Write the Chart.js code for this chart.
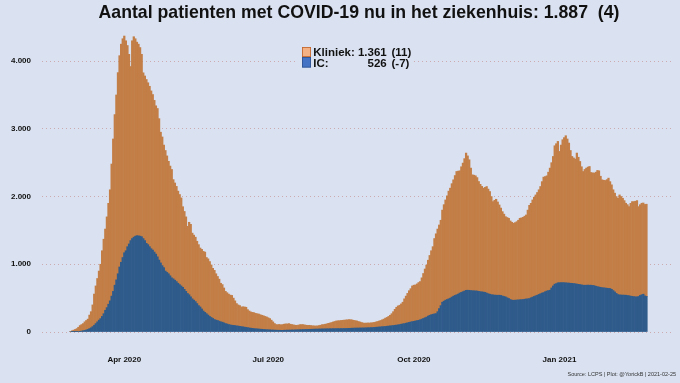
<!DOCTYPE html>
<html><head><meta charset="utf-8">
<script src="https://cdn.jsdelivr.net/npm/chart.js@4/dist/chart.umd.min.js"></script>
<style>html,body{margin:0;padding:0;background:#dae2f1;}canvas{display:block}</style>
</head><body>
<canvas id="c" width="680" height="383"></canvas>
<script>
// ---- data (LCPS, daily, starting 2020-02-27) ----
const startDate = '2020-02-27';
const tickDates = ['2020-04-01','2020-07-01','2020-10-01','2021-01-01'];
const tickLabels = ['Apr 2020','Jul 2020','Oct 2020','Jan 2021'];
const yTickValues = [0,1000,2000,3000,4000];
const seriesNames = ['Kliniek','IC'];
// total patients in hospital (Kliniek + IC)
const totaal = [
10,18,28,38,50,70,95,110,124,150,
170,190,250,300,400,560,680,790,900,1000,
1200,1370,1520,1700,1900,2100,2480,2850,3210,3500,
3830,4080,4250,4330,4370,4300,4230,4100,3920,4300,
4360,4330,4280,4250,4200,4100,3827,3780,3728,3680,
3628,3560,3506,3420,3340,3300,3150,2950,2880,2760,
2680,2600,2520,2450,2400,2250,2200,2150,2080,2030,
1980,1850,1780,1700,1560,1620,1590,1460,1430,1400,
1340,1290,1240,1220,1190,1180,1100,1080,1040,990,
940,910,860,820,780,720,700,650,600,580,
560,545,540,500,460,420,400,390,370,372,
370,365,330,310,296,290,285,275,270,265,
255,247,240,230,222,210,198,175,150,125,
110,108,112,105,110,115,120,118,124,115,
110,105,100,99,102,108,110,109,104,100,
98,99,95,92,90,89,90,95,100,108,
110,115,120,128,133,140,148,155,163,165,
168,170,173,175,178,180,183,182,178,172,
168,163,155,148,140,133,130,132,133,133,
135,138,142,148,155,162,170,180,190,205,
215,230,247,270,300,335,365,385,395,415,
440,490,530,570,610,640,680,691,695,710,
730,745,800,864,930,988,1060,1130,1200,1260,
1380,1450,1520,1580,1650,1800,1880,1950,2010,2080,
2124,2190,2247,2310,2370,2375,2380,2440,2494,2560,
2642,2600,2543,2420,2321,2315,2306,2280,2222,2180,
2150,2124,2135,2148,2110,2074,2000,1925,1945,1960,
1920,1876,1830,1777,1740,1703,1690,1679,1640,1620,
1605,1615,1629,1650,1679,1685,1694,1710,1728,1800,
1870,1900,1950,1990,2024,2060,2100,2148,2220,2287,
2295,2306,2360,2420,2500,2592,2750,2780,2814,2666,
2760,2839,2870,2898,2850,2790,2680,2592,2570,2553,
2642,2580,2518,2440,2370,2400,2420,2435,2444,2355,
2350,2346,2360,2385,2380,2300,2247,2240,2237,2250,
2272,2220,2173,2100,2050,2000,1975,2024,2000,1975,
1940,1901,1880,1851,1900,1925,1925,1930,1940,1851,
1880,1901,1905,1883,1887
];
// IC patients
const ic = [
0,1,2,3,5,7,10,14,18,24,
30,38,50,62,80,100,124,150,175,198,
230,270,321,360,410,460,530,600,691,770,
860,960,1030,1100,1170,1200,1259,1300,1350,1380,
1400,1415,1422,1420,1415,1407,1380,1350,1309,1290,
1260,1230,1210,1180,1150,1110,1062,1020,980,950,
900,880,860,830,800,785,765,745,720,700,
680,660,630,600,570,550,520,490,470,450,
420,390,370,340,310,290,270,250,230,215,
200,185,175,170,160,150,145,135,125,118,
110,105,100,98,95,90,88,84,80,76,
72,68,64,60,56,54,50,48,46,44,
42,40,38,36,34,33,32,30,29,28,
27,26,26,25,25,26,27,28,28,29,
30,30,31,32,33,34,35,36,37,38,
38,39,40,41,42,43,43,44,45,45,
46,46,47,47,48,48,49,49,50,50,
50,51,51,52,52,53,54,55,56,57,
58,58,59,59,60,60,61,62,63,64,
65,66,68,70,72,74,76,78,80,82,
85,88,90,93,96,99,102,105,110,115,
120,124,130,136,142,148,153,158,163,168,
173,180,190,200,210,220,235,247,255,262,
268,272,300,346,390,440,455,470,480,490,
500,515,529,540,550,560,575,585,595,605,
615,617,615,612,610,608,607,605,600,596,
592,590,585,575,565,558,552,548,545,543,
543,543,540,532,525,518,505,495,480,470,
469,470,472,474,476,478,480,484,488,490,
494,505,515,525,535,543,555,565,575,583,
595,605,612,617,650,680,706,715,726,728,
728,730,728,726,724,722,720,718,716,712,
708,704,700,696,691,690,691,692,691,691,
688,684,676,670,664,660,655,652,650,646,
644,642,630,612,592,570,553,548,546,545,
544,543,540,535,530,526,522,520,518,525,
540,550,558,533,526
];
// Kliniek = total minus IC
const kliniek = totaal.map((t, i) => t - ic[i]);

// ---- helpers ----
const DAY = 86400000;
const dayIndex = d => Math.round((Date.parse(d) - Date.parse(startDate)) / DAY);
const tickDays = tickDates.map(dayIndex);
const fmt = n => (n < 0 ? '-' : '') + String(Math.abs(n)).replace(/\B(?=(\d{3})+(?!\d))/g, '.');
const N = totaal.length;
const last = N - 1;
const totLast = totaal[last], totDiff = totaal[last] - totaal[last - 1];
const klLast = kliniek[last], klDiff = kliniek[last] - kliniek[last - 1];
const icLast = ic[last], icDiff = ic[last] - ic[last - 1];

const BG = '#dae2f1';
const FONT = '"Liberation Sans", Arial, Helvetica, sans-serif';

const decor = {
  id: 'decor',
  afterDraw(chart) {
    const ctx = chart.ctx;
    ctx.save();
    // title
    ctx.fillStyle = '#111';
    ctx.font = 'bold 17.7px ' + FONT;
    ctx.textAlign = 'center';
    ctx.textBaseline = 'alphabetic';
    ctx.fillText('Aantal patienten met COVID-19 nu in het ziekenhuis: ' + fmt(totLast) + '  (' + fmt(totDiff) + ')', 359, 17.5);
    // legend background
    ctx.fillStyle = BG;
    ctx.fillRect(298, 45, 114, 25);
    // legend swatches
    ctx.fillStyle = '#f4b183'; ctx.fillRect(302, 47, 9, 10);
    ctx.strokeStyle = '#c0632a'; ctx.lineWidth = 0.8; ctx.strokeRect(302.4, 47.4, 8.2, 9.2);
    ctx.fillStyle = '#4472c4'; ctx.fillRect(302, 57, 9, 10.5);
    ctx.strokeStyle = '#2f528f'; ctx.strokeRect(302.4, 57.4, 8.2, 9.7);
    // legend text
    ctx.fillStyle = '#111';
    ctx.font = 'bold 11.5px ' + FONT;
    ctx.textAlign = 'left';
    ctx.fillText(seriesNames[0] + ':', 313.3, 55.7);
    ctx.fillText(seriesNames[1] + ':', 313.3, 66.7);
    ctx.textAlign = 'right';
    ctx.fillText(fmt(klLast), 386.7, 55.7);
    ctx.fillText(fmt(icLast), 386.7, 66.7);
    ctx.textAlign = 'left';
    ctx.fillText('(' + fmt(klDiff) + ')', 391.5, 55.7);
    ctx.fillText('(' + fmt(icDiff) + ')', 391.5, 66.7);
    // footer
    ctx.fillStyle = '#333';
    ctx.font = '5.5px ' + FONT;
    ctx.textAlign = 'right';
    ctx.textBaseline = 'middle';
    ctx.fillText('Source: LCPS | Plot: @YorickB | 2021-02-25', 676, 374.5);
    ctx.restore();
  }
};

new Chart(document.getElementById('c'), {
  type: 'bar',
  data: {
    datasets: [
      { label: seriesNames[1], data: ic.map((v, i) => ({ x: i, y: v })), backgroundColor: '#2f5b8b', borderWidth: 0, barPercentage: 1, categoryPercentage: 1 },
      { label: seriesNames[0], data: kliniek.map((v, i) => ({ x: i, y: v })), backgroundColor: '#c27e46', borderWidth: 0, barPercentage: 1, categoryPercentage: 1 }
    ]
  },
  options: {
    responsive: false,
    animation: false,
    devicePixelRatio: 1,
    layout: { padding: { top: 34, right: 9, bottom: 0, left: 0 } },
    plugins: { legend: { display: false }, title: { display: false }, tooltip: { enabled: false } },
    scales: {
      x: {
        type: 'linear', stacked: true, offset: false,
        min: -18, max: 379.5,
        grid: { display: false }, border: { display: false },
        afterBuildTicks: s => { s.ticks = tickDays.map(v => ({ value: v })); },
        afterFit: s => { s.height = 51; },
        ticks: {
          autoSkip: false, maxRotation: 0, padding: 15,
          color: '#111', font: { family: FONT, size: 8, weight: 'bold' },
          callback: v => { const k = tickDays.indexOf(v); return k >= 0 ? tickLabels[k] : ''; }
        }
      },
      y: {
        stacked: true, min: 0, max: 4400,
        afterBuildTicks: s => { s.ticks = yTickValues.map(v => ({ value: v })); },
        afterFit: s => { s.width = 42; },
        grid: { color: 'rgba(200,160,165,0.85)', lineWidth: 1, drawTicks: false },
        border: { display: false, dash: [1, 3] },
        ticks: {
          padding: 11, color: '#111', font: { family: FONT, size: 8, weight: 'bold' },
          callback: v => fmt(v)
        }
      }
    }
  },
  plugins: [decor]
});
</script>
</body></html>
